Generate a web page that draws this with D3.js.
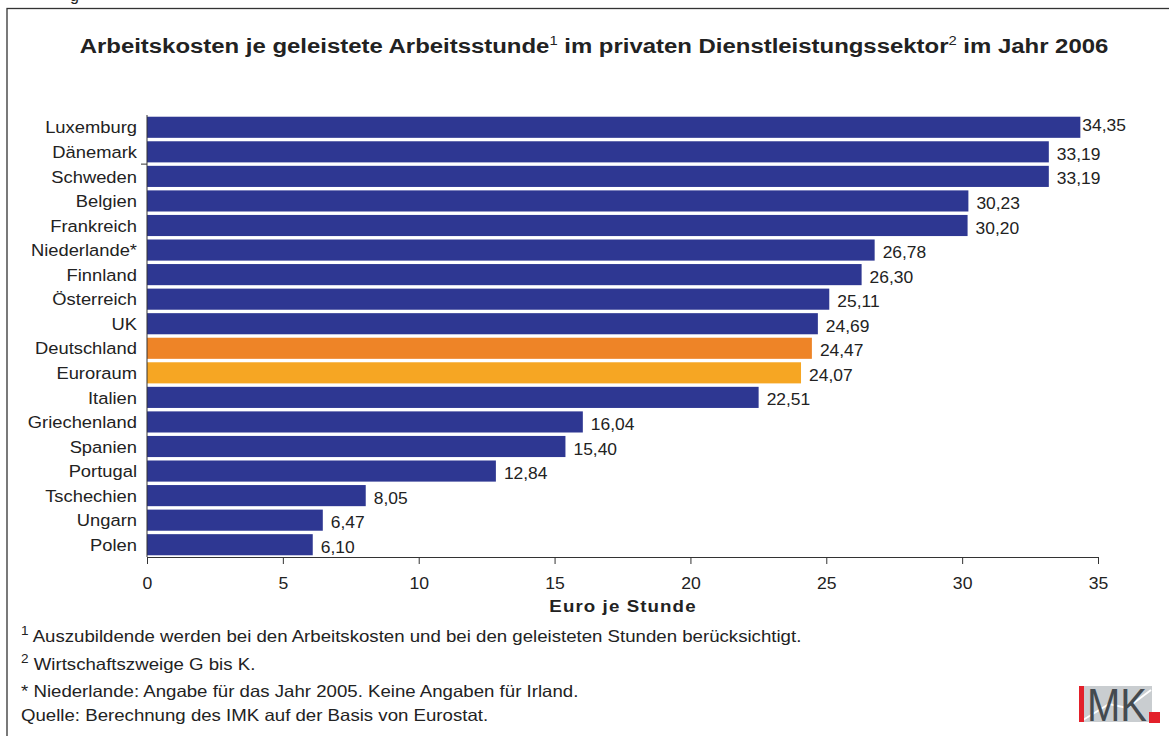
<!DOCTYPE html>
<html lang="de">
<head>
  <meta charset="UTF-8">
  <title>Arbeitskosten je geleistete Arbeitsstunde</title>
  <script src="https://cdn.jsdelivr.net/npm/d3@7"></script>
  <style>
    body { margin: 0; background: #fff; }
    text { font-family: "Liberation Sans", Arial, sans-serif; fill: #222; }
    .chart-title { font-size: 21px; font-weight: bold; }
    .cat-label { font-size: 17px; }
    .val-label { font-size: 16px; }
    .axis text { font-size: 16px; fill: #222; font-family: "Liberation Sans", Arial, sans-serif; }
    .axis-title { font-size: 17px; font-weight: bold; letter-spacing: 1px; }
    .note { font-size: 16.5px; }
  </style>
</head>
<body>
  <div id="container"></div>

  <script>
    const countries = ["Luxemburg", "Dänemark", "Schweden", "Belgien", "Frankreich", "Niederlande*",
      "Finnland", "Österreich", "UK", "Deutschland", "Euroraum", "Italien", "Griechenland",
      "Spanien", "Portugal", "Tschechien", "Ungarn", "Polen"];
    const costs = [34.35, 33.19, 33.19, 30.23, 30.20, 26.78, 26.30, 25.11, 24.69, 24.47, 24.07,
      22.51, 16.04, 15.40, 12.84, 8.05, 6.47, 6.10];
    const xTicks = [0, 5, 10, 15, 20, 25, 30, 35];

    // colours
    const blue = "#2E3792";
    const orange = "#EE8427";
    const yellow = "#F6A623";
    const barColor = c => c === "Deutschland" ? orange : (c === "Euroraum" ? yellow : blue);

    const width = 1169;
    const height = 736;

    // the original lettering is a bit wider than Liberation Sans
    const sxLabel = 1.08, sxValue = 1.09, sxTitle = 1.14, sxNote = 1.13;

    const svg = d3.select("#container")
      .append("svg")
      .attr("width", width)
      .attr("height", height);

    // frame (runs off the right and bottom edge)
    svg.append("rect")
      .attr("x", 7)
      .attr("y", 8.5)
      .attr("width", 1200)
      .attr("height", 800)
      .attr("fill", "none")
      .attr("stroke", "#333")
      .attr("stroke-width", 1.3);

    // cut-off caption above the frame
    svg.append("text")
      .attr("x", 70)
      .attr("y", 1)
      .style("font-size", "16px")
      .text("g");

    // scales
    const xScale = d3.scaleLinear().domain([0, 35]).range([147, 1098]);
    const yScale = d3.scaleBand().domain(countries).range([115, 557])
      .paddingInner(0.14).paddingOuter(0.07);

    const data = countries.map((c, i) => ({ country: c, value: costs[i] }));

    // bars
    svg.selectAll(".bar")
      .data(data)
      .enter()
      .append("rect")
      .attr("class", "bar")
      .attr("x", xScale(0))
      .attr("y", d => yScale(d.country))
      .attr("width", d => xScale(d.value) - xScale(0))
      .attr("height", yScale.bandwidth())
      .attr("fill", d => barColor(d.country));

    // value labels
    const fmt = d => d.toFixed(2).replace(".", ",");
    svg.selectAll(".val-label")
      .data(data)
      .enter()
      .append("text")
      .attr("class", "val-label")
      .attr("transform", (d, i) => {
        const x = xScale(d.value) + (i === 0 ? 2 : 8);
        const y = yScale(d.country) + yScale.bandwidth() / 2 + (i === 0 ? 4 : 8);
        return `translate(${x},${y}) scale(${sxValue},1)`;
      })
      .text(d => fmt(d.value));

    // category labels
    svg.selectAll(".cat-label")
      .data(data)
      .enter()
      .append("text")
      .attr("class", "cat-label")
      .attr("transform", d => `translate(137,${yScale(d.country) + yScale.bandwidth() / 2}) scale(${sxLabel},1)`)
      .attr("dy", "0.36em")
      .attr("text-anchor", "end")
      .text(d => d.country);

    // y axis line
    svg.append("line")
      .attr("x1", xScale(0)).attr("x2", xScale(0))
      .attr("y1", 115).attr("y2", 557)
      .attr("stroke", "#333").attr("stroke-width", 1);
    // lone category tick
    const tickY = (yScale("Dänemark") + yScale.bandwidth() + yScale("Schweden")) / 2;
    svg.append("line")
      .attr("x1", xScale(0) - 6).attr("x2", xScale(0))
      .attr("y1", tickY).attr("y2", tickY)
      .attr("stroke", "#333");

    // x axis
    const xAxis = svg.append("g")
      .attr("class", "axis")
      .attr("transform", "translate(0,557)")
      .call(d3.axisBottom(xScale).tickValues(xTicks).tickSizeInner(7).tickSizeOuter(0).tickPadding(14));
    xAxis.select(".domain").attr("stroke", "#333");
    xAxis.selectAll(".tick line").attr("stroke", "#333");
    xAxis.selectAll(".tick text").attr("transform", "scale(1.1,1)");

    svg.append("text")
      .attr("class", "axis-title")
      .attr("transform", "translate(623,612) scale(1.1,1)")
      .attr("text-anchor", "middle")
      .text("Euro je Stunde");

    // title with superscripts
    const title = svg.append("text")
      .attr("class", "chart-title")
      .attr("transform", `translate(594,53) scale(${sxTitle},1)`)
      .attr("text-anchor", "middle");
    title.append("tspan").text("Arbeitskosten je geleistete Arbeitsstunde");
    title.append("tspan").attr("dy", -8).style("font-size", "13px").style("font-weight", "normal").text("1");
    title.append("tspan").attr("dy", 8).text(" im privaten Dienstleistungssektor");
    title.append("tspan").attr("dy", -8).style("font-size", "13px").style("font-weight", "normal").text("2");
    title.append("tspan").attr("dy", 8).text(" im Jahr 2006");

    // footnotes
    const notes = [
      { sup: "1", text: " Auszubildende werden bei den Arbeitskosten und bei den geleisteten Stunden berücksichtigt.", y: 642 },
      { sup: "2", text: " Wirtschaftszweige G bis K.", y: 670 },
      { sup: "", text: "* Niederlande: Angabe für das Jahr 2005. Keine Angaben für Irland.", y: 697 },
      { sup: "", text: "Quelle: Berechnung des IMK auf der Basis von Eurostat.", y: 721 }
    ];
    notes.forEach(n => {
      const t = svg.append("text").attr("class", "note")
        .attr("transform", `translate(21,${n.y}) scale(${sxNote},1)`);
      if (n.sup) {
        t.append("tspan").attr("dy", -7).style("font-size", "12px").text(n.sup);
        t.append("tspan").attr("dy", 7).text(n.text);
      } else {
        t.text(n.text);
      }
    });

    // IMK logo
    const logo = svg.append("g").attr("transform", "translate(1079,686)");
    logo.append("rect").attr("width", 73).attr("height", 36).attr("fill", "#C9CDD0");
    logo.append("polyline")
      .attr("points", "4,34 30,18 48,22 72,4")
      .attr("fill", "none").attr("stroke", "#fff").attr("stroke-width", 2);
    logo.append("rect").attr("width", 5).attr("height", 36).attr("fill", "#E3202A");
    logo.append("text")
      .attr("x", 8).attr("y", 35)
      .style("font-size", "46px")
      .style("fill", "#444a4f")
      .attr("textLength", 60)
      .attr("lengthAdjust", "spacingAndGlyphs")
      .text("MK");
    logo.append("rect").attr("x", 70).attr("y", 26).attr("width", 11).attr("height", 11).attr("fill", "#E3202A");
  </script>
</body>
</html>
